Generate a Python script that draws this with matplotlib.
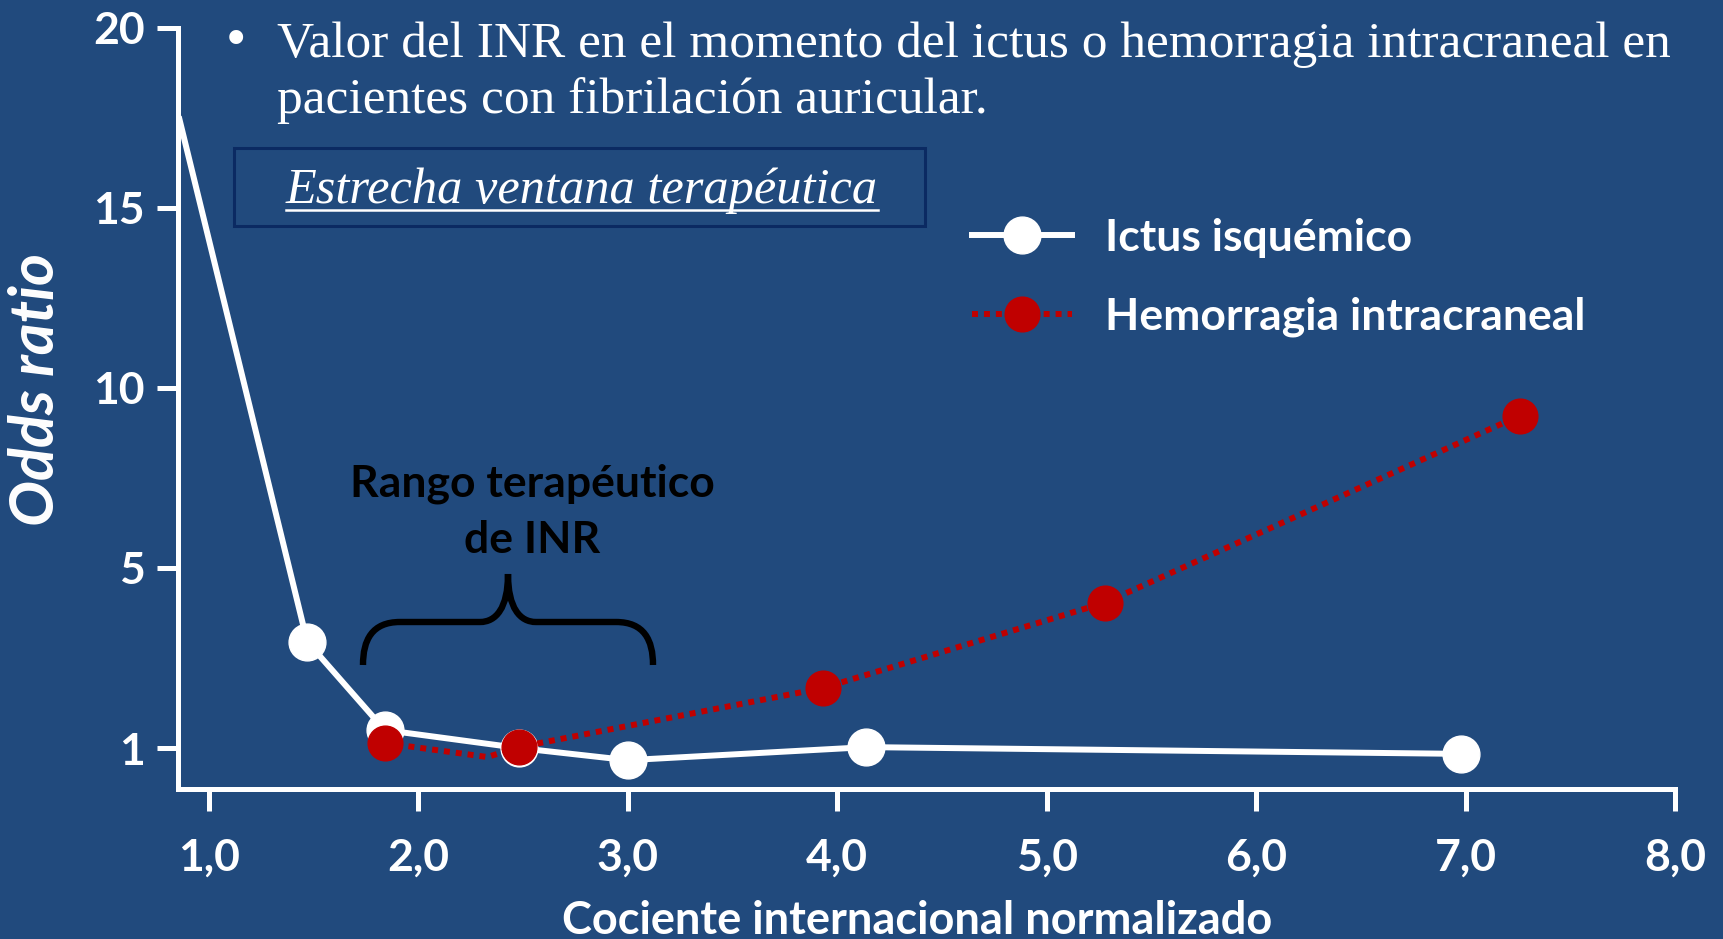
import numpy as np
import matplotlib
matplotlib.use("Agg")
import matplotlib.pyplot as plt
from matplotlib.path import Path
from matplotlib.patches import PathPatch, Rectangle
from matplotlib.lines import Line2D

# ---- data ----
x_isq = [0.86, 1.47, 1.84, 2.48, 3.00, 4.14, 6.98]
y_isq = [17.45, 3.36, 1.40, 1.00, 0.73, 1.02, 0.87]
isq_marked = [1, 2, 3, 4, 5, 6]

x_hem = [1.84, 2.33, 2.48, 3.93, 5.28, 7.26]
y_hem = [1.11, 0.80, 1.02, 2.33, 4.23, 9.23]
hem_marked = [0, 2, 3, 4, 5]

x_ticks = [1, 2, 3, 4, 5, 6, 7, 8]
x_ticklabels = ["1,0", "2,0", "3,0", "4,0", "5,0", "6,0", "7,0", "8,0"]
y_ticks = [1, 5, 10, 15, 20]

BG = "#214A7D"
RED = "#C00000"
W = 1724
H = 939


def fwd(v):
    # tick values 1, 5, 10, 15, 20 sit at equal steps
    v = np.asarray(v, dtype=float)
    return np.where(v < 5, (v - 1) / 4.0, 1 + (v - 5) / 5.0)


def inv(t):
    t = np.asarray(t, dtype=float)
    return np.where(t < 1, 1 + 4 * t, 5 + 5 * (t - 1))


def fx(px):
    return px / W


def fy(py):
    return 1 - py / H


plt.rcParams['font.family'] = ['Lato', 'DejaVu Sans']

fig = plt.figure(figsize=(W / 100, H / 100), dpi=100, facecolor=BG)
ax = fig.add_axes([fx(178), fy(789), fx(1675) - fx(178), fy(27.5) - fy(789)])
ax.set_facecolor(BG)
ax.set_yscale('function', functions=(fwd, inv))

ax.plot(x_isq, y_isq, color="white", lw=4.3, marker="o", ms=26.5,
        markevery=isq_marked, mec="white", mfc="white", zorder=3,
        label="Ictus isquémico")
ax.plot(x_hem, y_hem, color=RED, lw=4.3, ls=(0, (1, 1)), marker="o", ms=25,
        markevery=hem_marked, mec=RED, mfc=RED, zorder=4,
        label="Hemorragia intracraneal")

ax.set_xlim(0.853, 8.0)
ax.set_ylim(0.09, 20)
ax.set_xticks(x_ticks)
ax.set_xticklabels(x_ticklabels)
ax.set_yticks(y_ticks)
ax.set_yticklabels([str(v) for v in y_ticks])
ax.minorticks_off()

for s in ["top", "right"]:
    ax.spines[s].set_visible(False)
for s in ["left", "bottom"]:
    ax.spines[s].set_color("white")
    ax.spines[s].set_linewidth(3.6)
ax.tick_params(axis='x', colors="white", length=16, width=3.6, pad=19,
               labelsize=32)
ax.tick_params(axis='y', colors="white", length=15, width=3.6, pad=9,
               labelsize=32)
for lab in ax.get_xticklabels() + ax.get_yticklabels():
    lab.set_fontweight("bold")

fig.text(fx(36), fy(389), "Odds ratio", rotation=90, color="white",
         fontsize=44, fontweight="bold", style="italic", ha="center", va="center")
fig.text(fx(917), fy(934), "Cociente internacional normalizado", color="white",
         fontsize=32.5, fontweight="bold", ha="center", va="baseline")

# title lines
serif = ['Liberation Serif', 'DejaVu Serif']
fig.text(fx(236), fy(42), "\u2022", color="white", fontsize=42, family=serif,
         ha="center", va="center")
fig.text(fx(277), fy(57), "Valor del INR en el momento del ictus o hemorragia intracraneal en",
         color="white", fontsize=37, family=serif, va="baseline")
fig.text(fx(277), fy(113), "pacientes con fibrilación auricular.",
         color="white", fontsize=37, family=serif, va="baseline")

# boxed italic note
fig.patches.append(Rectangle((fx(234), fy(226)), fx(925) - fx(234), fy(148) - fy(226),
                             transform=fig.transFigure, facecolor=BG,
                             edgecolor="#0B2A62", lw=2.2))
note = fig.text(fx(286), fy(203), "Estrecha ventana terapéutica", color="white",
                fontsize=36.3, family=serif, style="italic", va="baseline")
fig.canvas.draw()
bb = note.get_window_extent(fig.canvas.get_renderer())
fig.lines.append(Line2D([bb.x0 / W, bb.x1 / W], [fy(210), fy(210)],
                        transform=fig.transFigure, color="white", lw=1.8))

# therapeutic range brace and label
fig.text(fx(532), fy(497), "Rango terapéutico", color="black", fontsize=32,
         fontweight="bold", ha="center", va="baseline")
fig.text(fx(532), fy(553), "de INR", color="black", fontsize=32,
         fontweight="bold", ha="center", va="baseline")

x0, xm, x1 = 363, 508, 653
y_end, y_bar, y_tip = 665, 622, 574
pts = [(x0, y_end), (x0, 640), (372, y_bar), (400, y_bar), (480, y_bar),
       (496, y_bar), (xm, 608), (xm, y_tip),
       (xm, 608), (520, y_bar), (536, y_bar), (616, y_bar),
       (644, y_bar), (x1, 640), (x1, y_end)]
codes = [Path.MOVETO, Path.CURVE4, Path.CURVE4, Path.CURVE4, Path.LINETO,
         Path.CURVE4, Path.CURVE4, Path.CURVE4,
         Path.CURVE4, Path.CURVE4, Path.CURVE4, Path.LINETO,
         Path.CURVE4, Path.CURVE4, Path.CURVE4]
brace = Path([(fx(px), fy(py)) for px, py in pts], codes)
fig.patches.append(PathPatch(brace, transform=fig.transFigure, facecolor="none",
                             edgecolor="black", lw=4.6, capstyle="butt"))

leg = fig.legend(loc="upper left", bbox_to_anchor=(fx(972), fy(218)),
                 frameon=False, fontsize=32, handlelength=2.25,
                 handletextpad=0.74, labelspacing=0.86, borderpad=0,
                 borderaxespad=0)
for t in leg.get_texts():
    t.set_color("white")
    t.set_fontweight("bold")

fig.savefig("out.png", dpi=100, facecolor=BG)
